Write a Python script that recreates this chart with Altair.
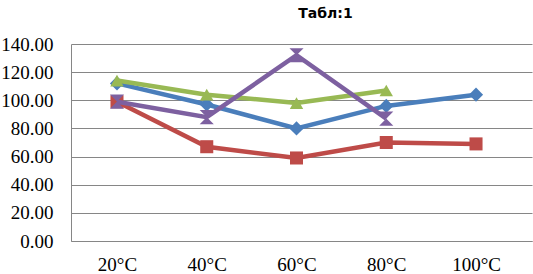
import altair as alt
import pandas as pd

categories = ["20°C", "40°C", "60°C", "80°C", "100°C"]
series_names = ["Ряд1", "Ряд2", "Ряд3", "Ряд4"]
blue_vals = [112, 97, 80, 96, 104]
red_vals = [99, 67, 59, 70, 69]
green_vals = [114, 104, 98, 107, None]
purple_vals = [99, 88, 132, 87, None]

colors = ["#4A7EBB", "#BE4B48", "#98B954", "#7D60A0"]
shapes = ["diamond", "square", "triangle-up", "M-1,-1L1,-1L-1,1L1,1Z"]
sizes = [200, 170, 180, 200]

rows = []
for name, vals in zip(series_names, [blue_vals, red_vals, green_vals, purple_vals]):
    for c, v in zip(categories, vals):
        if v is not None:
            rows.append({"series": name, "cat": c, "value": v})
df = pd.DataFrame(rows)

serif = "Liberation Serif"

x = alt.X("cat:N", sort=categories,
          scale=alt.Scale(type="point", padding=0.568, align=0.451),
          axis=alt.Axis(title=None, labelAngle=0, labelPadding=14,
                        ticks=False, grid=False))
y = alt.Y("value:Q",
          scale=alt.Scale(domain=[0, 140], nice=False),
          axis=alt.Axis(title=None, values=[0, 20, 40, 60, 80, 100, 120, 140],
                        format=".2f", labelPadding=18, ticks=False,
                        gridColor="#868686", gridWidth=1))

layers = []
for name, col, shp, sz in zip(series_names, colors, shapes, sizes):
    base = alt.Chart(df).transform_filter(alt.datum.series == name)
    layers.append(base.mark_line(color=col, strokeWidth=4.5).encode(x=x, y=y))
    layers.append(base.mark_point(color=col, shape=shp, size=sz, filled=True,
                                  opacity=1).encode(x=x, y=y))

chart = alt.layer(*layers).properties(
    width=461, height=197,
    title=alt.TitleParams("Табл:1", font="DejaVu Sans", fontSize=14,
                          fontWeight="bold", color="#000000", anchor="middle",
                          dx=24, offset=14),
    autosize=alt.AutoSizeParams(type="none"),
    padding={"left": 71, "top": 44, "right": 1, "bottom": 33},
).configure_view(stroke=None).configure_axis(
    labelFont=serif, labelFontSize=19, labelColor="#000000",
    labelFontWeight="normal", domainColor="#868686", domainWidth=1
)

chart.save("out.html", embed_options={"renderer": "svg", "actions": False})
